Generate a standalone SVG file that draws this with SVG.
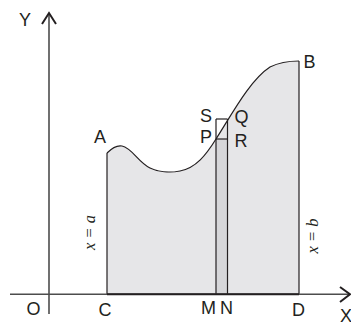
<svg xmlns="http://www.w3.org/2000/svg" width="351" height="324" viewBox="0 0 351 324">
<style>
.lbl{font-family:"Liberation Sans",Arial,sans-serif;font-size:18px;fill:#231f20;text-anchor:middle}
.eq{font-family:"Liberation Serif","Times New Roman",serif;font-style:italic;font-size:16.5px;fill:#231f20;text-anchor:middle}
.axis{stroke:#4d4d4d;stroke-width:1.6;fill:none}
.arrow{stroke:#231f20;stroke-width:2;fill:none;stroke-linejoin:miter}
.edge{stroke:#231f20;stroke-width:1.2;fill:none}
</style>
<rect width="351" height="324" fill="#ffffff"/>
<g id="region">
<path d="M107,153 C112,148 117,145 122,146 C132,148 138,162 150,168 C158,172 170,173 180,171 C196,168 206,155 216,139 C232,114 250,80 270,67 C280,62 290,61 299,61 L299,294 L107,294 Z" fill="#e6e6e8"/>
<rect x="216" y="139" width="11.5" height="155" fill="#d6d6d9"/>
<line x1="107" y1="153" x2="107" y2="294" class="edge"/>
<line x1="299" y1="61" x2="299" y2="294" class="edge"/>
</g>
<g id="strip">
<line x1="216" y1="119" x2="216" y2="294" class="edge"/>
<line x1="227.5" y1="119" x2="227.5" y2="294" class="edge"/>
<line x1="216" y1="119" x2="227.5" y2="119" class="edge"/>
<line x1="216" y1="139" x2="227.5" y2="139" class="edge"/>
</g>
<g id="curve">
<path d="M107,153 C112,148 117,145 122,146 C132,148 138,162 150,168 C158,172 170,173 180,171 C196,168 206,155 216,139 C232,114 250,80 270,67 C280,62 290,61 299,61" class="edge"/>
</g>
<g id="axes">
<line x1="10" y1="294.3" x2="349" y2="294.3" class="axis"/>
<line x1="49" y1="14" x2="49" y2="314" class="axis"/>
<polyline points="42,24 49,13 56,24" class="arrow"/>
<polyline points="340,287 350,294.3 340,302" class="arrow"/>
<line x1="107" y1="294.3" x2="299" y2="294.3" stroke="#231f20" stroke-width="2"/>
</g>
<g id="labels">
<text class="lbl" x="25" y="26">Y</text>
<text class="lbl" x="33.5" y="315">O</text>
<text class="lbl" x="105" y="316">C</text>
<text class="lbl" x="208.5" y="314">M</text>
<text class="lbl" x="226.5" y="314">N</text>
<text class="lbl" x="298.5" y="316">D</text>
<text class="lbl" x="346" y="322">X</text>
<text class="lbl" x="100" y="143">A</text>
<text class="lbl" x="309.5" y="68">B</text>
<text class="lbl" x="206" y="122">S</text>
<text class="lbl" x="241.5" y="123">Q</text>
<text class="lbl" x="206" y="143">P</text>
<text class="lbl" x="241" y="146.5">R</text>
<text class="eq" transform="translate(95,232.5) rotate(-90)">x = a</text>
<text class="eq" transform="translate(318,236) rotate(-90)">x = b</text>
</g>
</svg>
